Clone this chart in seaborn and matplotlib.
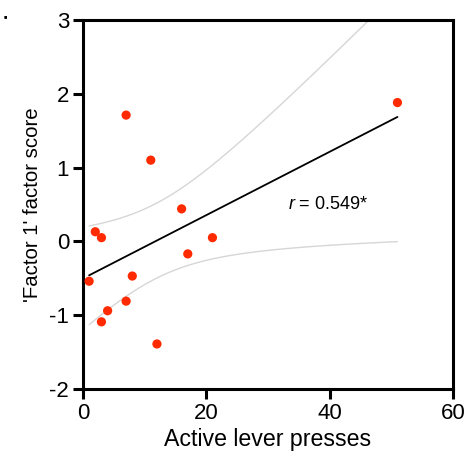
import numpy as np
import pandas as pd
import matplotlib
matplotlib.use("Agg")
import matplotlib.pyplot as plt
import seaborn as sns

# Data
lever_presses = [1, 2, 3, 3, 4, 7, 7, 8, 11, 12, 16, 17, 21, 51]
factor_score = [-0.54, 0.13, 0.05, -1.09, -0.94, -0.81, 1.71, -0.47,
                1.10, -1.39, 0.44, -0.17, 0.05, 1.88]
r_label = "0.549*"

df = pd.DataFrame({"x": lever_presses, "y": factor_score})

sns.set_style("ticks", {"axes.edgecolor": "black", "xtick.color": "black",
                        "ytick.color": "black", "text.color": "black",
                        "axes.labelcolor": "black"})
plt.rcParams["font.family"] = ["Liberation Sans", "DejaVu Sans"]
plt.rcParams["mathtext.fontset"] = "custom"
plt.rcParams["mathtext.it"] = "Liberation Sans:italic"
plt.rcParams["mathtext.rm"] = "Liberation Sans"
plt.rcParams["axes.unicode_minus"] = False

fig = plt.figure(figsize=(4.66, 4.62), dpi=100)
ax = fig.add_axes([0.178, 0.158, 0.794, 0.799])

# regression line + 95% CI bands drawn as thin lines
x = df["x"].to_numpy(float)
y = df["y"].to_numpy(float)
n = len(x)
slope, intercept = np.polyfit(x, y, 1)
resid = y - (slope * x + intercept)
s = np.sqrt(np.sum(resid ** 2) / (n - 2))
xs = np.linspace(x.min(), x.max(), 200)
t = 2.179  # t(0.975, 12)
se = s * np.sqrt(1 / n + (xs - x.mean()) ** 2 / np.sum((x - x.mean()) ** 2))
fit = slope * xs + intercept

ax.plot(xs, fit + t * se, color="#d6d6d6", lw=1.0, zorder=1)
ax.plot(xs, fit - t * se, color="#d6d6d6", lw=1.0, zorder=1)
sns.regplot(data=df, x="x", y="y", ci=None, ax=ax,
            scatter_kws=dict(color="#ff2a00", s=44, edgecolor="none", zorder=3, alpha=1),
            line_kws=dict(color="black", lw=1.3, zorder=2))

ax.text(33.3, 0.5, r"$\it{r}$ = " + r_label, fontsize=13, va="center", ha="left")

ax.set_xlim(0, 60)
ax.set_ylim(-2, 3)
ax.set_xticks([0, 20, 40, 60])
ax.set_yticks([-2, -1, 0, 1, 2, 3])
ax.set_xlabel("Active lever presses", fontsize=16.7, labelpad=3)
ax.set_ylabel("'Factor 1' factor score", fontsize=14.7, labelpad=5)
ax.tick_params(labelsize=16, width=2.2, length=7.5, direction="out", pad=2.5)
for sp in ax.spines.values():
    sp.set_linewidth(2.2)
    sp.set_visible(True)

fig.text(0.008, 0.965, "■", fontsize=4, color="black", ha="left", va="center")

fig.savefig("out.png", dpi=100)
